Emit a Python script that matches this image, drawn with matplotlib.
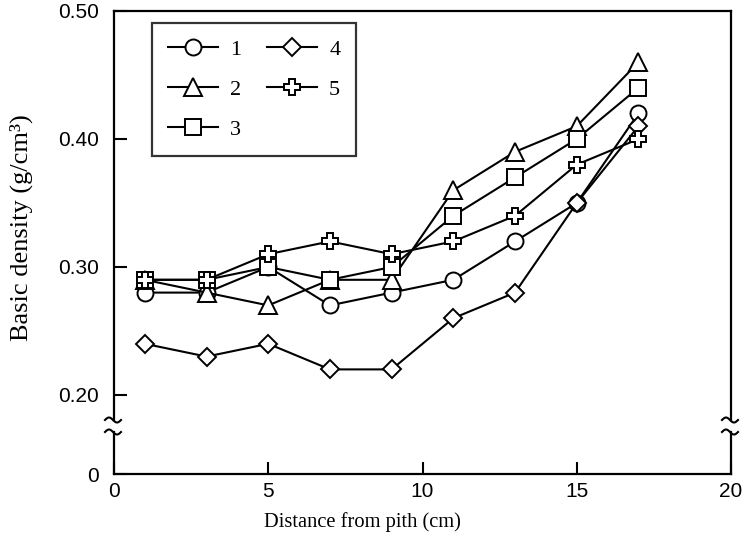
import numpy as np
import matplotlib
matplotlib.use("Agg")
import matplotlib.pyplot as plt
from matplotlib.lines import Line2D

# ---- data ----
distance = [1, 3, 5, 7, 9, 11, 13, 15, 17]
labels = ["1", "2", "3", "4", "5"]
s1 = [0.28, 0.28, 0.30, 0.27, 0.28, 0.29, 0.32, 0.35, 0.42]
s2 = [0.29, 0.28, 0.27, 0.29, 0.29, 0.36, 0.39, 0.41, 0.46]
s3 = [0.29, 0.29, 0.30, 0.29, 0.30, 0.34, 0.37, 0.40, 0.44]
s4 = [0.24, 0.23, 0.24, 0.22, 0.22, 0.26, 0.28, 0.35, 0.41]
s5 = [0.29, 0.29, 0.31, 0.32, 0.31, 0.32, 0.34, 0.38, 0.40]
yticks = [0, 0.20, 0.30, 0.40, 0.50]
yticklabels = ["0", "0.20", "0.30", "0.40", "0.50"]
xticks = [0, 5, 10, 15, 20]

series = [s1, s2, s3, s4, s5]
markers = ["o", "^", "s", "D", "P"]
msizes = [11.5, 13, 12, 9, 11.5]

# broken axis: compress 0..0.2
K = 0.3086
def fwd(y):
    y = np.asarray(y, dtype=float)
    return np.where(y >= 0.2, y, 0.2 - (0.2 - y) * K)
def inv(u):
    u = np.asarray(u, dtype=float)
    return np.where(u >= 0.2, u, 0.2 - (0.2 - u) / K)

W, H = 743, 543
fig = plt.figure(figsize=(W / 100, H / 100), dpi=100)
L, R, T, B = 114, 731, 11, 474
ax = fig.add_axes([L / W, 1 - B / H, (R - L) / W, (B - T) / H])
ax.set_yscale("function", functions=(fwd, inv))

for s, lab, m, ms in zip(series, labels, markers, msizes):
    ax.plot(distance, s, color="black", lw=1.5, marker=m, ms=ms,
            mfc="white", mec="black", mew=1.4, label=lab)

ax.set_xlim(0, 20)
ax.set_ylim(0, 0.5)
ax.set_xticks(xticks)
ax.set_xticklabels([str(x) for x in xticks])
ax.set_yticks(yticks)
ax.set_yticklabels(yticklabels)
ax.minorticks_off()

tickfont = "Liberation Sans"
for lbl in ax.get_xticklabels() + ax.get_yticklabels():
    lbl.set_fontfamily(tickfont)
    lbl.set_fontsize(15)
ax.tick_params(axis="both", direction="in", length=9, width=1.5,
               top=False, right=False)
ax.tick_params(axis="y", pad=11)
ax.tick_params(axis="x", pad=6)

ax.set_xlabel("Distance from pith (cm)", fontfamily="Liberation Serif",
              fontsize=14.8, va="center")
ax.xaxis.set_label_coords((362 - L) / (R - L), (B - 522) / (B - T))
ax.set_ylabel("Basic density (g/cm³)", fontfamily="Liberation Serif",
              fontsize=19, va="center")
ax.yaxis.set_label_coords((21 - L) / (R - L), (B - 228) / (B - T))

# spines with breaks
for sp in ["left", "right"]:
    ax.spines[sp].set_visible(False)
for sp in ["top", "bottom"]:
    ax.spines[sp].set_linewidth(1.6)

axh = B - T
axw = R - L
g_lo = (B - 432) / axh
g_hi = (B - 420) / axh
for xa in [0.0, 1.0]:
    ax.add_line(Line2D([xa, xa], [0, g_lo], transform=ax.transAxes,
                       color="black", lw=1.6, clip_on=False))
    ax.add_line(Line2D([xa, xa], [g_hi, 1], transform=ax.transAxes,
                       color="black", lw=1.6, clip_on=False))
    # break marks (tilde-like)
    t = np.linspace(0, 1, 30)
    dx = (-9 + 16 * t) / axw
    wave = 2.5 * np.sin(2 * np.pi * t)
    for base in [g_lo, g_hi]:
        dy = wave / axh
        ax.add_line(Line2D(xa + dx, base + dy, transform=ax.transAxes,
                           color="black", lw=1.5, clip_on=False))

leg = ax.legend(ncol=2, loc="upper left",
                bbox_to_anchor=((152 - L) / axw, (B - 23) / axh),
                prop={"family": "Liberation Serif", "size": 16},
                frameon=True, fancybox=False, edgecolor="black",
                handlelength=2.25, handletextpad=0.55, columnspacing=1.15,
                labelspacing=0.88, borderpad=0.72, borderaxespad=0)
leg.get_frame().set_linewidth(1.6)

fig.savefig("out.png", dpi=100)
